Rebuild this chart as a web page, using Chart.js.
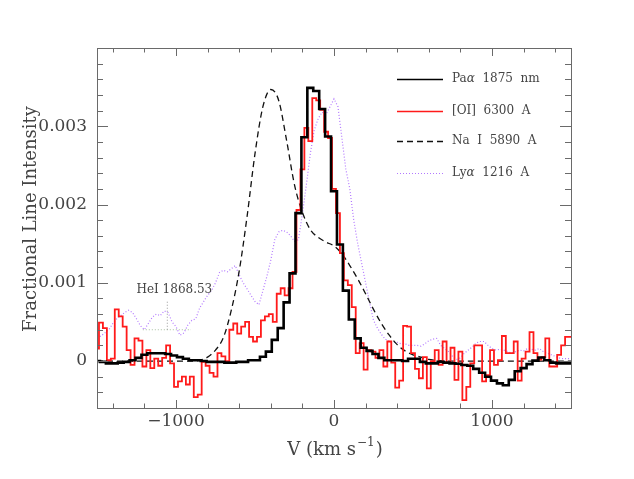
<!DOCTYPE html>
<html>
<head>
<meta charset="utf-8">
<script src="https://cdn.jsdelivr.net/npm/chart.js@4"></script>
<style>
  body { margin: 0; background: #fff; }
  canvas { display: block; }
</style>
</head>
<body>
<canvas id="lineChart" width="634" height="479"></canvas>
<script>
// all intensities below are in units of 1e-4 (fractional line intensity)

// Pa alpha 1875 nm, binned, first bin centre and bin width in km/s
const paStart = -1500, paStep = 37.5;
const paAlpha = [
  0.0, -0.1, -0.3, -0.3, -0.2, -0.1, 0.1, 0.4, 0.8, 1.0,
  1.0, 1.0, 0.9, 0.7, 0.5, 0.3, 0.1, 0.1, 0.0, -0.1,
  -0.1, -0.1, -0.2, -0.2, -0.1, -0.1, 0.1, 0.1, 0.55, 1.2,
  2.7, 4.2, 7.5, 11.2, 18.9, 28.6, 34.9, 34.5, 32.2, 28.7,
  21.7, 14.9, 9.0, 5.3, 2.9, 1.7, 1.3, 0.9, 0.4, 0.1,
  0.1, 0.1, 0.0, 0.3, 0.3, -0.1, -0.3, -0.3, -0.1, -0.2,
  -0.3, -0.35, -0.5, -0.6, -1.0, -1.5, -2.0, -2.5, -2.85, -3.1,
  -2.4, -1.3, -0.9, -0.4, 0.05, 0.45, 0.1, -0.2, -0.3, -0.3,
  -0.3
];

// [OI] 6300 A
const oiStart = -1500, oiStep = 25;
const oi6300 = [
  1.6, 4.9, 4.2, 0.1, 0.3, 6.6, 5.7, 4.4, 1.4, -0.5,
  2.9, 2.6, -0.7, 1.4, -0.9, 0.3, -0.6, 0.4, 2.0, -0.3,
  -3.3, -2.6, -2.0, -3.0, -2.0, -4.6, -4.3, -0.1, -0.6, -1.5,
  -2.0, 1.0, 0.6, 0.0, 4.0, 4.8, 3.5, 4.4, 5.0, 3.1,
  2.5, 3.1, 5.2, 5.7, 6.0, 5.0, 8.6, 9.3, 8.4, 9.3,
  11.4, 19.3, 24.5, 29.8, 28.1, 33.6, 33.3, 32.1, 29.3, 28.5,
  22.0, 18.9, 13.8, 10.3, 9.7, 6.9, 1.0, 2.3, -1.1, 1.4,
  1.2, 0.4, 1.4, -0.7, 2.5, -0.2, -3.4, -2.5, 4.5, 4.4,
  1.0, -1.0, -2.2, 0.5, -3.5, 0.0, 1.4, -0.5, 2.5, -0.2,
  1.7, -2.4, 1.2, -5.0, -3.3, -0.3, 2.0, 2.0, -2.6, -1.8,
  1.4, -0.5, 0.1, 3.2, 1.0, 1.0, 2.5, -2.5, 0.3, 1.2,
  3.7, 1.0, 0.2, 0.5, 2.9, -0.7, -0.7, 0.8, 2.0, 3.1,
  3.1
];

// Na I 5890 A profile
const naStart = -1500, naStep = 50;
const naI = [
  0, 0, 0, 0, 0, 0, 0, 0, 0, 0,
  0, 0, 0, 0.1, 0.5, 1.4, 3.0, 6.5, 11.5, 18.5,
  26.5, 32.5, 34.7, 33.3, 28.2, 22.5, 19.0, 16.8, 15.8, 15.2,
  14.7, 13.7, 12.2, 10.5, 8.6, 6.6, 4.8, 3.3, 2.1, 1.3,
  0.8, 0.5, 0.2, 0.1, 0, 0, 0, 0, 0, 0,
  0, 0, 0, 0, 0, 0, 0, 0, 0, 0,
  0
];

// Ly alpha 1216 A
const lyStart = -1500, lyStep = 25;
const lyAlpha = [
  3.0, 3.2, 3.6, 4.0, 4.8, 5.4, 5.8, 6.2, 6.5, 6.2,
  5.4, 4.5, 4.0, 4.8, 5.6, 6.0, 5.8, 6.4, 6.2, 5.0,
  4.4, 3.3, 3.6, 4.6, 5.2, 5.4, 6.8, 7.6, 8.4, 9.0,
  10.0, 11.3, 11.6, 11.4, 11.8, 12.2, 11.0, 10.0, 9.2, 8.4,
  7.6, 7.2, 9.0, 10.8, 12.9, 15.5, 16.5, 16.7, 16.5, 16.0,
  15.3, 15.5, 18.8, 22.5, 26.5, 29.5, 31.0, 31.8, 31.5, 32.5,
  33.5, 32.5, 28.5, 24.5, 22.0, 18.0, 15.0, 12.5, 10.0, 7.5,
  5.2, 4.2, 3.4, 2.8, 2.5, 2.4, 2.4, 2.2, 2.2, 2.0,
  2.0, 2.0, 1.9, 2.2, 2.6, 2.8, 2.9, 2.0, 1.6, 1.2,
  0.6, 0.2, 0.4, 1.0, 1.4, 1.8, 2.3, 2.5, 2.5, 2.0,
  1.6, 1.4, 1.5, 1.4, 1.2, 1.0, 1.2, 1.4, 1.3, 1.6,
  1.5, 1.4, 1.6, 1.2, 1.0, 0.8, 0.6, 0.4, 0.3, 0.3,
  0.3
];

// HeI 1868.53 marker (velocity, intensity)
const heiTickV = [-1055, -1055];
const heiTickY = [4.0, 7.8];
const heiBarV = [-1210, -905];
const heiBarY = [4.0, 4.0];

const legendLabels = [
  [['Pa', ''], ['\u03b1', 'italic '], ['  1875  nm', '']],
  [['[OI]  6300  A', '']],
  [['Na  I  5890  A', '']],
  [['Ly', ''], ['\u03b1', 'italic '], ['  1216  A', '']]
];

const serif = "'DejaVu Serif', serif";
const textColor = '#444';
const frameColor = '#6a6a6a';

function toPoints(values, start, step) {
  return values.map((v, i) => ({ x: start + i * step, y: v * 1e-4 }));
}
function pairPoints(xs, ys) {
  return xs.map((v, i) => ({ x: v, y: ys[i] * 1e-4 }));
}

// frame with inward ticks, axis titles, legend and the HeI note
const decorations = {
  id: 'decorations',
  afterDatasetsDraw(chart) {
    const { ctx, chartArea: a, scales: { x, y } } = chart;
    ctx.save();
    ctx.strokeStyle = frameColor;
    ctx.lineWidth = 1;
    ctx.setLineDash([]);
    ctx.strokeRect(a.left + 0.5, a.top + 0.5, a.right - a.left, a.bottom - a.top);

    ctx.beginPath();
    x.ticks.forEach(t => {
      const v = Math.round(t.value);
      if (v % 200 !== 0) return;
      const px = Math.round(x.getPixelForValue(v)) + 0.5;
      const len = v % 1000 === 0 ? 8 : 4.5;
      ctx.moveTo(px, a.bottom); ctx.lineTo(px, a.bottom - len);
      ctx.moveTo(px, a.top); ctx.lineTo(px, a.top + len);
    });
    y.ticks.forEach(t => {
      const n = Math.round(t.value * 1e4);
      if (n % 2 !== 0 || n <= -6 || n >= 40) return;
      const py = Math.round(y.getPixelForValue(t.value)) + 0.5;
      const len = n % 10 === 0 ? 11 : 6;
      ctx.moveTo(a.left, py); ctx.lineTo(a.left + len, py);
      ctx.moveTo(a.right, py); ctx.lineTo(a.right - len, py);
    });
    ctx.stroke();

    // axis titles
    ctx.fillStyle = textColor;
    ctx.textBaseline = 'middle';
    ctx.textAlign = 'left';
    const base = 'V (km s';
    const sup = '\u22121';
    const tail = ')';
    ctx.font = '18px ' + serif;
    const w1 = ctx.measureText(base).width;
    const w3 = ctx.measureText(tail).width;
    ctx.font = '12px ' + serif;
    const w2 = ctx.measureText(sup).width;
    const tx = (a.left + a.right) / 2 - (w1 + w2 + w3) / 2;
    const ty = 450;
    ctx.font = '18px ' + serif;
    ctx.fillText(base, tx, ty);
    ctx.font = '12px ' + serif;
    ctx.fillText(sup, tx + w1 + 1, ty - 7);
    ctx.font = '18px ' + serif;
    ctx.fillText(tail, tx + w1 + w2 + 2, ty);

    ctx.save();
    ctx.translate(31, 219);
    ctx.rotate(-Math.PI / 2);
    ctx.textAlign = 'center';
    ctx.font = '18px ' + serif;
    ctx.fillText('Fractional Line Intensity', 0, 0);
    ctx.restore();

    // HeI note
    ctx.font = '12px ' + serif;
    ctx.textAlign = 'left';
    ctx.fillText('HeI 1868.53', x.getPixelForValue(-1250), y.getPixelForValue(0.00091));

    // legend
    const sets = chart.data.datasets;
    const rows = [79, 111, 141, 173];
    rows.forEach((ry, i) => {
      const ds = sets[i];
      ctx.beginPath();
      ctx.strokeStyle = ds.borderColor;
      ctx.lineWidth = Math.min(ds.borderWidth, 1.5);
      ctx.setLineDash(ds.borderDash || []);
      ctx.moveTo(397, ry + 0.5);
      ctx.lineTo(443, ry + 0.5);
      ctx.stroke();
      ctx.setLineDash([]);
      let lx = 452;
      legendLabels[i].forEach(([txt, style]) => {
        ctx.font = style + '12px ' + serif;
        ctx.fillText(txt, lx, ry);
        lx += ctx.measureText(txt).width;
      });
    });
    ctx.restore();
  }
};

new Chart(document.getElementById('lineChart'), {
  type: 'line',
  data: {
    datasets: [
      {
        label: 'Pa\u03b1 1875 nm',
        data: toPoints(paAlpha, paStart, paStep),
        borderColor: '#000000',
        borderWidth: 2.6,
        stepped: 'middle',
        pointRadius: 0
      },
      {
        label: '[OI] 6300 A',
        data: toPoints(oi6300, oiStart, oiStep),
        borderColor: '#ff1a1a',
        borderWidth: 1.8,
        stepped: 'middle',
        pointRadius: 0
      },
      {
        label: 'Na I 5890 A',
        data: toPoints(naI, naStart, naStep),
        borderColor: '#111111',
        borderWidth: 1.3,
        borderDash: [6, 4],
        cubicInterpolationMode: 'monotone',
        pointRadius: 0
      },
      {
        label: 'Ly\u03b1 1216 A',
        data: toPoints(lyAlpha, lyStart, lyStep),
        borderColor: 'rgb(178, 120, 255)',
        borderWidth: 1.2,
        borderDash: [1, 2],
        pointRadius: 0
      },
      {
        label: 'HeI tick',
        data: pairPoints(heiTickV, heiTickY),
        borderColor: '#999999',
        borderWidth: 1,
        borderDash: [1, 2],
        pointRadius: 0
      },
      {
        label: 'HeI bar',
        data: pairPoints(heiBarV, heiBarY),
        borderColor: '#a8c0a0',
        borderWidth: 1,
        borderDash: [1, 2],
        pointRadius: 0
      }
    ]
  },
  options: {
    responsive: false,
    animation: false,
    layout: { padding: { top: 48, right: 63, left: 0, bottom: 0 } },
    plugins: {
      legend: { display: false },
      tooltip: { enabled: false }
    },
    scales: {
      x: {
        type: 'linear',
        min: -1500,
        max: 1500,
        grid: { display: false, drawTicks: false },
        border: { display: false },
        ticks: {
          stepSize: 100,
          autoSkip: false,
          maxRotation: 0,
          padding: 3,
          color: textColor,
          font: { family: serif, size: 17 },
          callback: v => {
            const n = Math.round(v);
            if (n % 1000 !== 0) return '';
            return n < 0 ? '\u2212' + Math.abs(n) : String(n);
          }
        },
        afterFit: s => { s.height = 71; }
      },
      y: {
        type: 'linear',
        min: -0.0006,
        max: 0.004,
        grid: { display: false, drawTicks: false },
        border: { display: false },
        ticks: {
          stepSize: 0.0002,
          autoSkip: false,
          padding: 10,
          color: textColor,
          font: { family: serif, size: 17 },
          callback: v => {
            const n = Math.round(v * 1e4);
            if (n % 10 !== 0 || n >= 40) return '';
            return n === 0 ? '0' : (n / 1e4).toFixed(3);
          }
        },
        afterFit: s => { s.width = 97; }
      }
    }
  },
  plugins: [decorations]
});
</script>
</body>
</html>
